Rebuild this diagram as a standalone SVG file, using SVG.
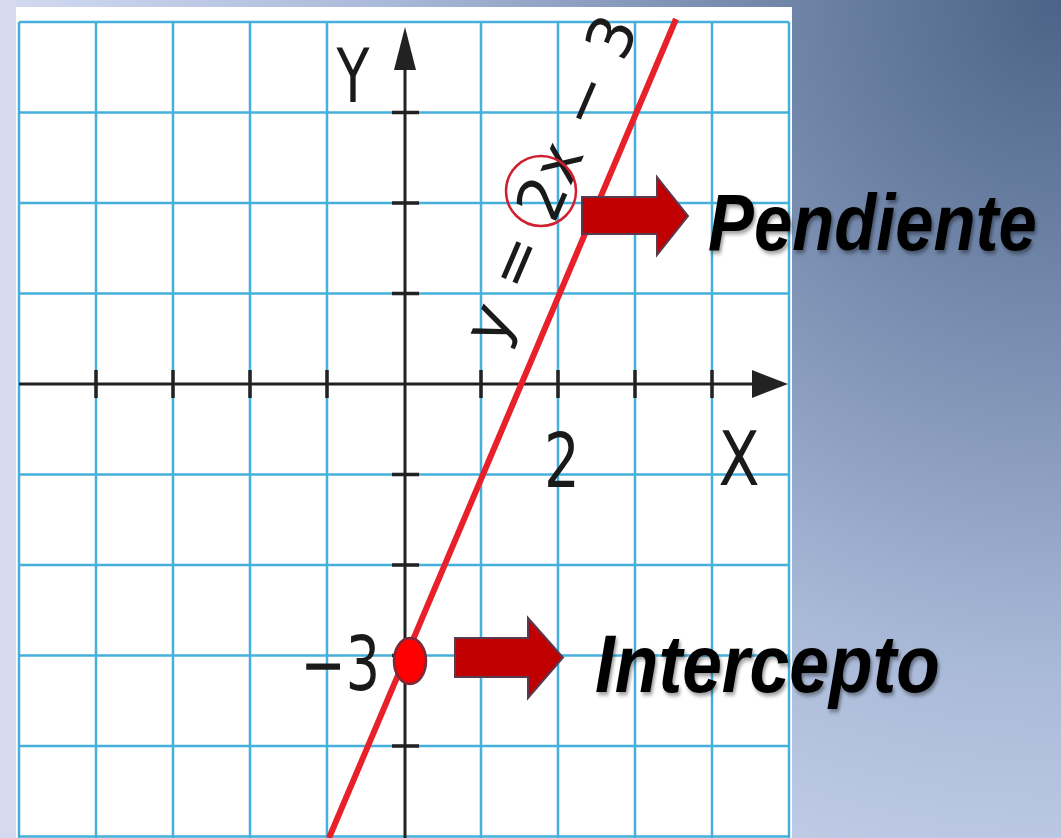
<svg xmlns="http://www.w3.org/2000/svg" width="1061" height="838" viewBox="0 0 1061 838">
  <defs>
    <radialGradient id="bg" gradientUnits="userSpaceOnUse" cx="1061" cy="0" r="1080">
      <stop offset="0" stop-color="#4c6387"/>
      <stop offset="0.3" stop-color="#768bae"/>
      <stop offset="0.62" stop-color="#a9b9d8"/>
      <stop offset="1" stop-color="#d4dcf2"/>
    </radialGradient>
    <filter id="shadow" x="-5%" y="-20%" width="112%" height="150%">
      <feDropShadow dx="2" dy="3" stdDeviation="2" flood-color="#000" flood-opacity="0.4"/>
    </filter>
    <style>
      .grid { stroke: #45b0dc; stroke-width: 2.5; fill: none; }
      .axis { stroke: #222; stroke-width: 3; fill: none; }
      .tick { stroke: #222; stroke-width: 3.5; }
      .lbl { font-family: "DejaVu Sans", "Liberation Sans", sans-serif; font-size: 75px; fill: #1a1a1a; }
      .eq { font-family: "DejaVu Sans", "Liberation Sans", sans-serif; font-size: 62px; fill: #1a1a1a; }
      .big { font-family: "Liberation Sans", "Noto Sans", sans-serif; font-weight: bold; font-style: italic; fill: #000; }
      .arrow { fill: #c00000; stroke: #5a3a50; stroke-width: 2; }
    </style>
  </defs>

  <rect width="1061" height="838" fill="url(#bg)"/>
  <rect x="0" y="0" width="16" height="838" fill="#d5daf0"/>

  <g id="grid-paper">
    <rect x="16" y="7" width="776" height="831" fill="#ffffff"/>
    <g class="grid">
      <path d="M19,22V838M96,22V838M173,22V838M250,22V838M327,22V838M481,22V838M558,22V838M635,22V838M712,22V838M789,22V838"/>
      <path d="M19,22H789M19,112.5H789M19,203H789M19,293.5H789M19,474.5H789M19,565H789M19,655.5H789M19,746H789M19,836.5H789"/>
    </g>
  </g>

  <g id="axes">
    <line class="axis" x1="19" y1="384" x2="760" y2="384"/>
    <polygon points="752,370 788,384 752,398" fill="#222"/>
    <line class="axis" x1="405" y1="838" x2="405" y2="60"/>
    <polygon points="394,70 405,27 416,70" fill="#222"/>
    <g class="tick">
      <path d="M96,370V398M173,370V398M250,370V398M327,370V398M481,370V398M558,370V398M635,370V398M712,370V398"/>
      <path d="M392,112.5H419M392,203H419M392,293.5H419M392,474.5H419M392,565H419M392,655.5H419M392,746H419"/>
    </g>
  </g>

  <g id="axis-labels">
    <text class="lbl" transform="translate(353,102) scale(0.72,1)" text-anchor="middle">Y</text>
    <text class="lbl" transform="translate(739,485) scale(0.8,1)" text-anchor="middle">X</text>
    <text class="lbl" transform="translate(562,487) scale(0.75,1)" text-anchor="middle">2</text>
    <text class="lbl" transform="translate(380,690) scale(0.72,1)" text-anchor="end">−3</text>
  </g>

  <g id="line">
    <line x1="329" y1="838" x2="676" y2="19" stroke="#e8202a" stroke-width="6"/>
  </g>

  <g id="equation">
    <text class="eq" transform="translate(570,188) rotate(-66.8)" text-anchor="middle" textLength="350" lengthAdjust="spacing">y = 2x − 3</text>
    <circle cx="541" cy="191" r="35" fill="none" stroke="#d02030" stroke-width="2.5"/>
  </g>

  <g id="intercept-dot">
    <ellipse cx="410" cy="661" rx="16" ry="23" fill="#ff0000" stroke="#7a2a3a" stroke-width="2.5"/>
  </g>

  <g id="connectors">
    <path class="arrow" d="M582,197H657V177L688,216L657,255V234H582Z"/>
    <path class="arrow" d="M455,638H528V618L563,657.5L528,698V677H455Z"/>
  </g>

  <g id="label-pendiente">
    <text class="big" transform="translate(708,250) scale(0.86,1)" font-size="80" filter="url(#shadow)">Pendiente</text>
  </g>
  <g id="label-intercepto">
    <text class="big" transform="translate(595,692) scale(0.87,1)" font-size="82" filter="url(#shadow)">Intercepto</text>
  </g>
</svg>
